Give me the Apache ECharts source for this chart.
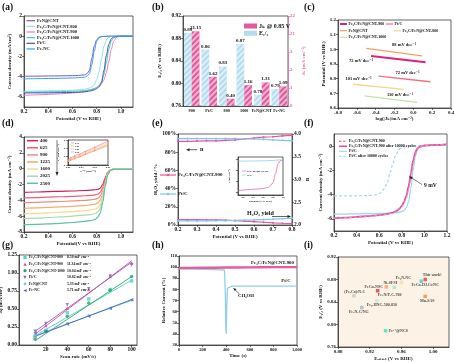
<!DOCTYPE html>
<html><head><meta charset="utf-8">
<script src="https://cdn.jsdelivr.net/npm/echarts@6/dist/echarts.min.js"></script>
<style>html,body{margin:0;padding:0;background:#fff}#c{width:454px;height:363px}</style>
</head><body><div id="c"></div>
<script>
// ---------------- DATA ----------------
// (a) LSV curves
const A_X=[0.2,0.3,0.4,0.5,0.6,0.65,0.7,0.72,0.74,0.76,0.78,0.8,0.82,0.84,0.86,0.88,0.9,0.92,0.94,0.96,0.98,1.0,1.05,1.1];
const A_NAMES=['FeN@CNT','Fe₃C/FeN@CNT-800','Fe₃C/FeN@CNT-900','Fe₃C/FeN@CNT-1000','Pt/C','Fe-NC'];
const A_FEN=[-3.95,-3.95,-3.93,-3.92,-3.9,-3.88,-3.82,-3.7,-3.4,-2.2,-1.0,-0.35,-0.1,-0.04,-0.02,-0.01,0,0,0,0,0,0,0,0];
const A_800=[-5.45,-5.42,-5.4,-5.38,-5.35,-5.3,-5.25,-5.2,-5.12,-5.0,-4.8,-4.3,-3.5,-2.2,-1.0,-0.35,-0.1,-0.03,-0.01,0,0,0,0,0];
const A_900=[-5.85,-5.8,-5.75,-5.7,-5.62,-5.55,-5.48,-5.42,-5.35,-5.28,-5.2,-5.1,-4.95,-4.7,-4.3,-3.6,-2.5,-1.3,-0.5,-0.15,-0.04,0,0,0];
const A_1000=[-5.55,-5.53,-5.5,-5.48,-5.45,-5.42,-5.38,-5.35,-5.3,-5.25,-5.18,-5.05,-4.85,-4.5,-3.8,-2.6,-1.3,-0.5,-0.15,-0.05,-0.01,0,0,0];
const A_PTC=[-5.62,-5.6,-5.6,-5.58,-5.56,-5.54,-5.5,-5.47,-5.43,-5.38,-5.3,-5.18,-5.0,-4.6,-3.4,-1.9,-0.8,-0.25,-0.08,-0.02,0,0,0,0];
const A_FENC=[-4.22,-4.2,-4.18,-4.16,-4.13,-4.1,-4.05,-3.95,-3.7,-2.8,-1.5,-0.5,-0.15,-0.05,-0.02,-0.01,0,0,0,0,0,0,0,0];
const A_YT=[-6,-4,-2,0,2];
// (b) bars
const B_CATS=['900','Pt/C','800','1000','FeN@CNT','Fe-NC'];
const B_E12=[0.89,0.86,0.83,0.87,0.78,0.79];
const B_JK=[21.15,1.62,0.40,1.16,1.31,1.09];
// (c) Tafel lines
const C_NAMES=['Fe₃C/FeN@CNT-900','Pt/C','FeN@CNT','Fe₃C/FeN@CNT-800','Fe₃C/FeN@CNT-1000'];
const C_900_X=[-0.45,0.13], C_900_Y=[0.955,0.912];
const C_PTC_X=[-0.37,0.18], C_PTC_Y=[0.818,0.779];
const C_FEN_X=[-0.50,0.09], C_FEN_Y=[1.007,0.955];
const C_800_X=[-0.64,-0.10], C_800_Y=[0.762,0.727];
const C_1000_X=[-0.52,0.04], C_1000_Y=[0.682,0.639];
const C_SLOPES=['88 mV dec⁻¹','72 mV dec⁻¹','72 mV dec⁻¹','101 mV dec⁻¹','110 mV dec⁻¹'];
// (d) RPM curves
const D_X=[0.2,0.3,0.4,0.5,0.6,0.7,0.75,0.79,0.81,0.83,0.85,0.87,0.89,0.91,0.93,0.96,1.0,1.05,1.1];
const D_RPM=['400','625','900','1225','1600','2025','2500'];
const D_400=[-3.0,-2.95,-2.9,-2.86,-2.82,-2.76,-2.72,-2.66,-2.6,-2.45,-2.0,-1.2,-0.5,-0.2,-0.1,-0.08,-0.08,-0.08,-0.1];
const D_625=[-3.7,-3.65,-3.6,-3.55,-3.5,-3.42,-3.37,-3.3,-3.2,-2.98,-2.4,-1.4,-0.55,-0.2,-0.1,-0.08,-0.08,-0.08,-0.1];
const D_900=[-4.3,-4.25,-4.2,-4.15,-4.08,-4.0,-3.94,-3.85,-3.72,-3.45,-2.8,-1.6,-0.6,-0.22,-0.1,-0.08,-0.08,-0.08,-0.1];
const D_1225=[-5.0,-4.95,-4.9,-4.83,-4.76,-4.66,-4.58,-4.48,-4.32,-4.0,-3.2,-1.8,-0.65,-0.23,-0.1,-0.08,-0.08,-0.08,-0.1];
const D_1600=[-5.7,-5.64,-5.58,-5.5,-5.42,-5.3,-5.22,-5.1,-4.92,-4.55,-3.6,-2.0,-0.7,-0.25,-0.1,-0.08,-0.08,-0.08,-0.1];
const D_2025=[-6.3,-6.24,-6.17,-6.1,-6.0,-5.88,-5.8,-5.66,-5.44,-5.0,-3.9,-2.1,-0.75,-0.26,-0.1,-0.08,-0.08,-0.08,-0.1];
const D_2500=[-7.1,-7.04,-6.97,-6.9,-6.8,-6.65,-6.56,-6.4,-6.12,-5.6,-4.3,-2.3,-0.8,-0.28,-0.12,-0.08,-0.08,-0.08,-0.1];
// (d) inset K-L
const KL_X=[0.020,0.022,0.025,0.029,0.033,0.040,0.050];
const KL_075=[0.140,0.158,0.176,0.198,0.226,0.270,0.333];
const KL_080=[0.147,0.165,0.184,0.207,0.236,0.281,0.347];
const KL_085=[0.156,0.175,0.195,0.219,0.249,0.297,0.366];
const KL_090=[0.166,0.186,0.207,0.232,0.263,0.314,0.386];
const KL_NAMES=['0.75','0.80','0.85','0.90'];
// (e) RRDE
const E_X=[0.2,0.25,0.3,0.35,0.4,0.45,0.5,0.55,0.6,0.65,0.7,0.75,0.8];
const E_N_900=[3.84,3.84,3.845,3.85,3.85,3.86,3.87,3.89,3.91,3.93,3.94,3.96,3.97];
const E_N_PTC=[3.9,3.9,3.9,3.9,3.9,3.9,3.9,3.89,3.89,3.88,3.87,3.86,3.85];
const E_H_900=[5.8,5.8,5.8,5.7,5.6,5.3,4.8,4.2,3.6,3.0,2.4,1.9,1.5];
const E_H_PTC=[4.5,4.5,4.5,4.6,4.7,4.8,5.0,5.3,5.6,6.0,6.4,6.9,7.3];
const EI_X=[0.1,0.2,0.3,0.4,0.5,0.6,0.7,0.75,0.8,0.85,0.9,0.95,1.0];
const EI_900=[-5.7,-5.6,-5.5,-5.45,-5.4,-5.3,-5.1,-4.8,-4.2,-2.6,-0.8,-0.15,-0.05];
const EI_PTC=[-0.25,-0.25,-0.24,-0.23,-0.22,-0.2,-0.18,-0.16,-0.14,-0.1,-0.06,-0.03,-0.02];
// (f) stability LSV
const F_X=[0.2,0.3,0.4,0.5,0.55,0.6,0.62,0.65,0.67,0.7,0.72,0.75,0.78,0.8,0.82,0.84,0.86,0.88,0.9,0.92,0.94,0.96,1.0,1.1,1.2];
const F_NAMES=['Fe₃C/FeN@CNT-900','Fe₃C/FeN@CNT-900 after 10000 cycles','Pt/C','Pt/C after 10000 cycles'];
const F_900=[-5.95,-5.9,-5.85,-5.78,-5.74,-5.7,-5.68,-5.64,-5.6,-5.55,-5.5,-5.4,-5.2,-5.0,-4.7,-4.3,-3.6,-2.6,-1.4,-0.6,-0.2,-0.05,0.05,0.1,0.15];
const F_900A=[-5.95,-5.9,-5.84,-5.77,-5.73,-5.69,-5.67,-5.63,-5.59,-5.53,-5.48,-5.37,-5.15,-4.92,-4.6,-4.1,-3.3,-2.3,-1.2,-0.5,-0.17,-0.04,0.05,0.1,0.15];
const F_PTC=[-5.6,-5.6,-5.58,-5.57,-5.56,-5.55,-5.55,-5.54,-5.53,-5.52,-5.5,-5.48,-5.45,-5.4,-5.3,-5.1,-4.6,-3.5,-2.0,-0.8,-0.25,-0.08,0.02,0.05,0.1];
const F_PTCA=[-4.1,-4.1,-4.1,-4.08,-4.05,-3.92,-3.8,-3.45,-3.05,-2.1,-1.45,-0.65,-0.25,-0.12,-0.06,-0.03,-0.01,0,0.01,0.02,0.03,0.04,0.05,0.08,0.1];
const F_YT=[-6,-4,-2,0];
// (g) Cdl
const G_X=[10,20,40,60,80,100];
const G_NAMES=['Fe₃C/FeN@CNT-800','Fe₃C/FeN@CNT-900','Fe₃C/FeN@CNT-1000','Pt/C','FeN@CNT','Fe-NC'];
const G_CDL=['8.50 mF cm⁻²','11.34 mF cm⁻²','10.04 mF cm⁻²','10.82 mF cm⁻²','5.33 mF cm⁻²','5.71 mF cm⁻²'];
const G_800=[0.12,0.20,0.45,0.64,0.77,0.89];
const G_900=[0.14,0.27,0.51,0.77,0.96,1.14];
const G_1000=[0.08,0.19,0.40,0.585,0.76,0.95];
const G_PTC=[0.19,0.30,0.56,0.78,0.96,1.11];
const G_FEN=[0.14,0.21,0.30,0.41,0.51,0.62];
const G_FENC=[0.17,0.19,0.29,0.40,0.51,0.63];
const G_FIT_X=[10,100];
const G_FIT_800=[0.13,0.90], G_FIT_900=[0.15,1.17], G_FIT_1000=[0.06,0.95];
const G_FIT_PTC=[0.19,1.15], G_FIT_FEN=[0.13,0.62], G_FIT_FENC=[0.12,0.63];
const G_XT=[20,40,60,80,100];
// (h) chronoamperometry
const H_T1=[0,100,200,300,400,500,600,700,800,900,1000];
const H_900=[99.2,99.3,99.4,99.5,99.6,99.7,99.8,99.9,100,100,100];
const H_T2=[0,100,200,300,385,390,393,397,401,405,410,420,450,500,600,700,800,900,1000];
const H_PTC=[98.5,98.3,98.1,97.8,97.4,97.2,75,45,40,65,81,82.5,83,83,83,83,83,83,83];
// (i) comparison scatter
const I_NAMES=['This work!','FeCo-DACs/NC','Fe₃N-NC','Ni-SFSI','FeCu-NSC','Fe-N/P-C-700','Mn-SAS','(Fe,Co)/N-C','Fe₃-HNC-500-850','Fe-N-C/NG','Fe³⁺@NCS'];
const I_X=[0.990,0.985,0.960,0.951,0.941,0.930,0.990,0.900,0.929,0.910,0.940];
const I_Y=[0.880,0.877,0.875,0.866,0.867,0.860,0.850,0.851,0.842,0.830,0.789];
const I_XT=[0.88,0.92,0.96,1.00];

// ---------------- STYLE ----------------
const FF='"Liberation Serif","DejaVu Serif",serif';
const A_COL=['#6e5fc6','#8fe0ee','#f07cbc','#38d0bc','#3f56a6','#3aa2e4'];
const C_COL=['#e0207a','#f26e7e','#f4a063','#f7d58a','#c4e4a8'];
const D_COL=['#d81b60','#e8607a','#ef8c7c','#f2ad6e','#f6d98e','#a8dcaa','#5fc2a8'];
const KL_COL=['#f08a5d','#f2a66a','#f6c07a','#e8758a'];
const PINK='#e8559b', LBLUE='#7cc8e8';
const G_COL=['#49d6c8','#e0489c','#2ea06a','#8462b8','#66c4ea','#4a62b8'];
const G_SYM=['rect','triangle','circle','triangle','diamond','triangle'];
const G_ROT=[0,0,0,180,0,90];
const G_MK=['rect','up','circle','down','diamond','left'];
const I_COL=['#e83a3a','#3fd2d0','#f6d9a8','#a6e2d6','#f2a468','#e0304a','#f08a3a','#c9c9c9','#c6e4e6','#9fb8c8','#3fe0c0'];
const I_POS=['top','bottom','top','top','left','bottom','bottom','top','bottom','bottom','right'];
const I_OFF=[[7,1],[4,-1],[2,1],[-4,1],[0,0],[12,-1],[2,-1],[1,1],[5,-1],[-3,-1],[0,0]];
const f1=v=>(+v).toFixed(1), f2=v=>(+v).toFixed(2);

const grids=[],xs=[],ys=[],series=[],G=[];
function addGrid(l,t,w,h,bg){grids.push({left:l,top:t,width:w,height:h,show:true,borderColor:'#222',borderWidth:0.7,backgroundColor:bg||'transparent',outerBoundsMode:'none',containLabel:false});return grids.length-1;}
function mkAxis(g,o){
  const a={gridIndex:g,type:'value',
    axisLine:{show:true,onZero:false,lineStyle:{color:'#222',width:0.7}},
    axisTick:{show:true,length:2,lineStyle:{color:'#222',width:0.6}},
    axisLabel:{fontSize:5.5,margin:2,fontFamily:FF,fontWeight:'bold',color:'#111'},
    splitLine:{show:false},nameLocation:'middle',
    nameTextStyle:{fontSize:5,fontFamily:FF,fontWeight:'bold',color:'#111'}};
  for(const k in o){const v=o[k];
    if(v&&typeof v==='object'&&!Array.isArray(v)&&a[k]&&typeof a[k]==='object')a[k]=Object.assign({},a[k],v);else a[k]=v;}
  return a;}
function addX(g,o){xs.push(mkAxis(g,o));return xs.length-1;}
function addY(g,o){ys.push(mkAxis(g,o));return ys.length-1;}
function line(xi,yi,X,Y,color,w,extra){
  return Object.assign({type:'line',xAxisIndex:xi,yAxisIndex:yi,data:X.map((x,i)=>[x,Y[i]]),symbol:'none',showSymbol:false,
    smooth:0.3,smoothMonotone:'x',lineStyle:{color:color,width:w},itemStyle:{color:color},silent:true,z:3},extra||{});}
// graphic helpers
function T(x,y,text,o){o=o||{};return {type:'text',x:x,y:y,z:100,silent:true,rotation:o.rot||0,
  style:{text:text,fill:o.color||'#111',fontSize:o.size||5,fontFamily:FF,fontWeight:o.weight||'bold',align:o.align||'left',verticalAlign:o.va||'middle'}};}
function L(x1,y1,x2,y2,color,w,dash){return {type:'line',z:100,silent:true,shape:{x1:x1,y1:y1,x2:x2,y2:y2},style:{stroke:color,lineWidth:w||1,lineDash:dash||null}};}
function P(pts,color){return {type:'polygon',z:100,silent:true,shape:{points:pts},style:{fill:color}};}
function M(type,x,y,s,color){const h=s/2;
  if(type==='rect')return {type:'rect',z:100,silent:true,shape:{x:x-h,y:y-h,width:s,height:s},style:{fill:color}};
  if(type==='circle')return {type:'circle',z:100,silent:true,shape:{cx:x,cy:y,r:h},style:{fill:color}};
  let p;
  if(type==='up')p=[[x,y-h],[x+h,y+h],[x-h,y+h]];
  if(type==='down')p=[[x,y+h],[x+h,y-h],[x-h,y-h]];
  if(type==='left')p=[[x-h,y],[x+h,y-h],[x+h,y+h]];
  if(type==='diamond')p=[[x,y-h],[x+h,y],[x,y+h],[x-h,y]];
  return P(p,color);}

// panel letters
[['(a)',2,3],['(b)',152,3],['(c)',304,3],['(d)',2,119],['(e)',152,119],['(f)',304,119],['(g)',2,241],['(h)',152,241],['(i)',304,241]]
  .forEach(p=>G.push(T(p[1],p[2],p[0],{size:9.5,va:'top'})));

// ---------------- (a) ----------------
const gA=addGrid(24,16,109,91);
const xA=addX(gA,{min:0.2,max:1.1,interval:0.2,name:'Potential (V vs RHE)',nameGap:8,axisLabel:{formatter:f1,showMaxLabel:false}});
const yA=addY(gA,{min:-7,max:2,name:'Current density (mA/cm²)',nameGap:12,axisLabel:{customValues:A_YT},axisTick:{customValues:A_YT}});
[A_FEN,A_800,A_900,A_1000,A_PTC,A_FENC].forEach((Y,i)=>series.push(line(xA,yA,A_X,Y,A_COL[i],1)));
A_NAMES.forEach((n,i)=>{const y=20.7+5.65*i;G.push(L(26.5,y,35,y,A_COL[i],1.2));G.push(T(37,y,n,{size:4.5}));});

// ---------------- (b) ----------------
const BBLUE='#b3dcef',BPINK='#e4589e',PINK2='#e06aa8';
const gB=addGrid(183,16,105,90);
const xB=addX(gB,{type:'category',data:B_CATS,axisTick:{show:false},axisLabel:{interval:0,fontSize:4.2,margin:2.5}});
const yB=addY(gB,{min:0.76,max:0.92,interval:0.04,name:'E₁/₂ (V vs RHE)',nameGap:21,axisLabel:{formatter:f2}});
const yB2=addY(gB,{position:'right',min:0,max:22,interval:1,
  breaks:[{start:3,end:21,gap:'20%'}],breakArea:{show:false},
  axisLine:{lineStyle:{color:PINK2,width:0.7}},axisTick:{lineStyle:{color:PINK2,width:0.6}},
  axisLabel:{color:PINK2,fontSize:5},name:'Jₖ (mA cm⁻²)',nameGap:13,nameTextStyle:{color:PINK2}});
const decal={symbol:'rect',symbolSize:1,dashArrayX:[1,0],dashArrayY:[1.2,1.8],rotation:-Math.PI/4,color:'rgba(255,255,255,0.55)'};
const blab={show:true,position:'top',distance:1,fontSize:5,fontFamily:FF,fontWeight:'bold',color:'#111',formatter:p=>(+p.value).toFixed(2)};
series.push({type:'bar',xAxisIndex:xB,yAxisIndex:yB,data:B_E12,barGap:'0%',barCategoryGap:'12%',itemStyle:{color:BBLUE,decal:decal},label:blab,silent:true});
series.push({type:'bar',xAxisIndex:xB,yAxisIndex:yB2,data:B_JK,barGap:'0%',barCategoryGap:'12%',itemStyle:{color:BPINK,decal:decal},label:blab,silent:true});
G.push({type:'rect',z:100,shape:{x:244,y:23.5,width:13,height:5},style:{fill:BPINK}});
G.push({type:'rect',z:100,shape:{x:244,y:30.8,width:13,height:5},style:{fill:BBLUE}});
G.push(T(259,26,'Jₖ @ 0.85 V',{size:6}));G.push(T(259,33.3,'E₁/₂',{size:6}));

// ---------------- (c) ----------------
const gC=addGrid(338,20,113,88);
const xC=addX(gC,{min:-0.8,max:0.4,interval:0.2,name:'log(|Jₖ|/mA cm⁻²)',nameGap:8,axisLabel:{formatter:f1,fontSize:5}});
const yC=addY(gC,{min:0.6,max:1.2,interval:0.1,name:'Potential (V vs RHE)',nameGap:11,axisLabel:{formatter:f1,fontSize:5}});
[[C_900_X,C_900_Y,2],[C_PTC_X,C_PTC_Y,1.3],[C_FEN_X,C_FEN_Y,1.3],[C_800_X,C_800_Y,1.3],[C_1000_X,C_1000_Y,1.3]]
  .forEach((d,i)=>series.push(line(xC,yC,d[0],d[1],C_COL[i],d[2],{smooth:false})));
[[340,24,0],[386,24,1],[340,30.7,2],[394,30.7,3],[340,37.3,4]].forEach(r=>{
  G.push(L(r[0],r[1],r[0]+7,r[1],C_COL[r[2]],r[2]===0?2:1.2));G.push(T(r[0]+8.5,r[1],C_NAMES[r[2]],{size:4}));});
[[404,45],[361,61],[407.5,73],[358.5,79],[400,95]].forEach((p,i)=>G.push(T(p[0],p[1],C_SLOPES[i],{size:4.5,align:'center'})));

// ---------------- (d) ----------------
const gD=addGrid(24,137,109,95);
const xD=addX(gD,{min:0.2,max:1.1,interval:0.2,name:'Potential(V vs RHE)',nameGap:8,axisLabel:{formatter:f1,showMaxLabel:false}});
const yD=addY(gD,{min:-8,max:4,interval:2,name:'Current density (mA cm⁻²)',nameGap:12});
[D_400,D_625,D_900,D_1225,D_1600,D_2025,D_2500].forEach((Y,i)=>series.push(line(xD,yD,D_X,Y,D_COL[i],1.2)));
D_RPM.forEach((n,i)=>{const y=140.7+7.1*i;G.push(L(27,y,38,y,D_COL[i],1.5));G.push(T(40,y,n,{size:5}));});
G.push(L(57,140,57,173,'#222',0.6));G.push(P([[55.5,172],[58.5,172],[57,176]],'#222'));
// inset K-L
const gD2=addGrid(68,140,40,25);
const tiny={fontSize:2.6,margin:1};
const xD2=addX(gD2,{min:0.02,max:0.05,interval:0.01,axisLabel:Object.assign({formatter:f2},tiny),axisTick:{length:1},name:'ω⁻¹/² (rpm⁻¹/²)',nameGap:4,nameTextStyle:{fontSize:2.6}});
const yD2=addY(gD2,{min:0.1,max:0.4,interval:0.1,axisLabel:Object.assign({formatter:f1},tiny),axisTick:{length:1},name:'j⁻¹ (cm² mA⁻¹)',nameGap:5,nameTextStyle:{fontSize:2.6}});
[KL_075,KL_080,KL_085,KL_090].forEach((Y,i)=>series.push(line(xD2,yD2,KL_X,Y,KL_COL[i],0.6,{smooth:false,symbol:'circle',showSymbol:true,symbolSize:1.2})));
KL_NAMES.forEach((n,i)=>{const y=143+3*i;G.push(L(71,y,74,y,KL_COL[i],0.6));G.push(T(75,y,n,{size:2.4}));});

// ---------------- (e) ----------------
const gE=addGrid(178,134,114,91);
const xE=addX(gE,{min:0.2,max:0.8,interval:0.1,name:'Potential (V vs RHE)',nameGap:8,axisLabel:{formatter:f1}});
const yE=addY(gE,{min:0,max:100,interval:20,name:'H₂O₂ yield / %',nameGap:19,axisLabel:{formatter:'{value}%'}});
const yE2=addY(gE,{position:'right',min:2,max:4,interval:0.5,name:'n',nameGap:12,axisLabel:{formatter:f1},nameTextStyle:{fontSize:6}});
const sym={symbol:'circle',showSymbol:true,symbolSize:2,smooth:false};
series.push(line(xE,yE2,E_X,E_N_900,PINK,1.2,sym));
series.push(line(xE,yE2,E_X,E_N_PTC,LBLUE,1.2,sym));
series.push(line(xE,yE,E_X,E_H_900,PINK,1.2,sym));
series.push(line(xE,yE,E_X,E_H_PTC,LBLUE,1.2,sym));
G.push(L(160,175,176,175,PINK,1.2));G.push({type:'circle',z:100,shape:{cx:168,cy:175,r:1.3},style:{fill:PINK}});
G.push(T(178,175,'Fe₃C/FeN@CNT-900',{size:5}));
G.push(L(160,194,176,194,LBLUE,1.2));G.push({type:'circle',z:100,shape:{cx:168,cy:194,r:1.3},style:{fill:LBLUE}});
G.push(T(178,194,'Pt/C',{size:5}));
G.push(L(188,149.7,197,149.7,'#222',0.7));G.push(P([[186,149.7],[189.5,148.2],[189.5,151.2]],'#222'));G.push(T(200,149.7,'n',{size:6}));
G.push(T(247,213.5,'H₂O₂ yield',{size:6}));G.push(L(272,216.5,288,216.5,'#222',0.7));G.push(P([[291,216.5],[287.5,215],[287.5,218]],'#222'));
// inset
const gE2=addGrid(238,157,45,38);
const xE2=addX(gE2,{min:0.1,max:1.0,axisLabel:Object.assign({customValues:[0.2,0.4,0.6,0.8,1.0],formatter:f1},tiny),axisTick:{length:1,customValues:[0.2,0.4,0.6,0.8,1.0]},name:'Potential (V vs RHE)',nameGap:4,nameTextStyle:{fontSize:2.6}});
const yE2i=addY(gE2,{min:-6.5,max:0.5,axisLabel:Object.assign({customValues:[-6,-4,-2,0]},tiny),axisTick:{length:1,customValues:[-6,-4,-2,0]},name:'j (mA cm⁻²)',nameGap:4,nameTextStyle:{fontSize:2.6}});
series.push(line(xE2,yE2i,EI_X,EI_900,PINK,0.7));
series.push(line(xE2,yE2i,EI_X,EI_PTC,LBLUE,0.7));
G.push(L(242,171,246,171,PINK,0.6));G.push(T(247,171,'Fe₃C/FeN@CNT-900',{size:2.4}));
G.push(L(242,175,246,175,LBLUE,0.6));G.push(T(247,175,'Pt/C',{size:2.4}));

// ---------------- (f) ----------------
const FPINK='#e0509a',FBLUE='#9ad6f0';
const gF=addGrid(334,134,113,97);
const xF=addX(gF,{min:0.2,max:1.2,interval:0.2,name:'Potential (V vs RHE)',nameGap:8,axisLabel:{formatter:f1}});
const yF=addY(gF,{min:-7,max:1,name:'Current density (mA cm⁻²)',nameGap:10,axisLabel:{customValues:F_YT},axisTick:{customValues:F_YT}});
series.push(line(xF,yF,F_X,F_PTC,FBLUE,1.2));
series.push(line(xF,yF,F_X,F_PTCA,FBLUE,1.1,{lineStyle:{color:FBLUE,width:1.1,type:[3,2]}}));
series.push(line(xF,yF,F_X,F_900A,FPINK,1.8));
series.push(line(xF,yF,F_X,F_900,FPINK,1.1,{lineStyle:{color:'#f08cc0',width:1.1,type:[3,2]}}));
[[FPINK,1.1,[2.5,1.5]],[FPINK,1.6,null],[FBLUE,1.1,null],[FBLUE,1.1,[2.5,1.5]]].forEach((s,i)=>{
  const y=141.3+5*i;G.push(L(339,y,347,y,s[0],s[1],s[2]));G.push(T(349,y,F_NAMES[i],{size:4}));});
G.push(L(422,184.5,411,177.5,'#222',0.6));G.push(P([[409,176.3],[412.8,176.9],[411.2,179.4]],'#222'));
G.push(T(424,186,'9 mV',{size:5.5}));

// ---------------- (g) ----------------
const gG=addGrid(19,255,118,90);
const xG=addX(gG,{min:-5,max:105,name:'Scan rate (mV/s)',nameGap:8,axisLabel:{customValues:G_XT},axisTick:{customValues:G_XT}});
const yG=addY(gG,{min:0,max:1.25,interval:0.25,name:'Δj (mA/cm²)',nameGap:13,axisLabel:{formatter:f2}});
[G_FIT_800,G_FIT_900,G_FIT_1000,G_FIT_PTC,G_FIT_FEN,G_FIT_FENC].forEach((Y,i)=>series.push(line(xG,yG,G_FIT_X,Y,G_COL[i],0.9,{smooth:false})));
[G_800,G_900,G_1000,G_PTC,G_FEN,G_FENC].forEach((Y,i)=>series.push({type:'scatter',xAxisIndex:xG,yAxisIndex:yG,data:G_X.map((x,j)=>[x,Y[j]]),
  symbol:G_SYM[i],symbolRotate:G_ROT[i],symbolSize:3.5,itemStyle:{color:G_COL[i]},silent:true,z:4}));
G_NAMES.forEach((n,i)=>{const y=257.5+6.6*i;G.push(M(G_MK[i],25,y,3.2,G_COL[i]));G.push(T(29,y,n,{size:3.8}));G.push(T(67,y,G_CDL[i],{size:3.8}));});

// ---------------- (h) ----------------
const gH=addGrid(179,256,118,89);
const xH=addX(gH,{min:0,max:1000,interval:200,name:'Time (s)',nameGap:8,axisLabel:{fontSize:4.5}});
const yH=addY(gH,{min:30,max:110,interval:10,name:'Relative Current (%)',nameGap:13,axisLabel:{fontSize:4.5}});
series.push(line(xH,yH,H_T2,H_PTC,'#8fd0ec',1.3,{smooth:false}));
series.push(line(xH,yH,H_T1,H_900,'#ec5a9e',2.4,{smooth:false}));
G.push(T(272.5,262.7,'Fe₃C/FeN@CNT-900',{size:4.8,align:'center'}));
G.push(T(286,281,'Pt/C',{size:4.8,align:'center'}));
G.push(T(246,296,'CH₃OH',{size:4.8,align:'center'}));
G.push(L(239.5,294,234.5,289.5,'#222',0.6));G.push(P([[233,288],[236.5,289],[234.8,291]],'#222'));

// ---------------- (i) ----------------
const gI=addGrid(338,257,111,90,'#fcf2e6');
const xI=addX(gI,{min:0.88,max:1.02,name:'Eₒₙₛₑₜ (V vs RHE)',nameGap:9,axisLabel:{customValues:I_XT,formatter:f2,fontSize:5},axisTick:{customValues:I_XT}});
const yI=addY(gI,{min:0.76,max:0.92,interval:0.04,name:'E₁/₂ (V vs RHE)',nameGap:15,axisLabel:{formatter:f2,fontSize:5}});
series.push({type:'scatter',xAxisIndex:xI,yAxisIndex:yI,symbol:'rect',symbolSize:3.5,silent:true,z:4,
  data:I_X.map((x,i)=>({value:[x,I_Y[i]],itemStyle:{color:I_COL[i]},label:{position:I_POS[i],offset:I_OFF[i]}})),
  label:{show:true,distance:1.5,fontSize:4,fontFamily:FF,fontWeight:'bold',color:'#222',formatter:p=>I_NAMES[p.dataIndex]}});

const chart=echarts.init(document.getElementById('c'),null,{renderer:'canvas'});
chart.setOption({animation:false,backgroundColor:'#fff',grid:grids,xAxis:xs,yAxis:ys,series:series,graphic:{elements:G}});
</script></body></html>
